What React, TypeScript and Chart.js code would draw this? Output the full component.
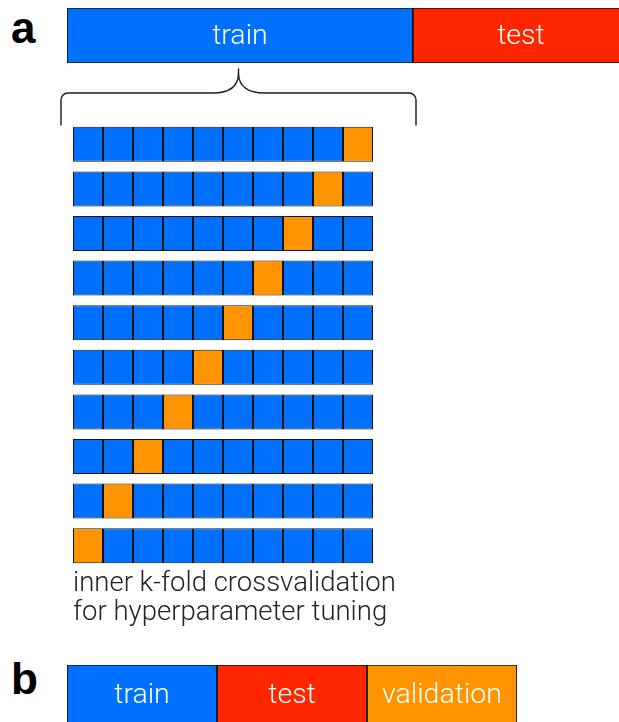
import React, { useEffect, useRef } from "react";
import { Chart, registerables } from "chart.js";

Chart.register(...registerables);

// ---- data ----
const panelLabels = ["a", "b"];
const topCategories = ["train", "test"];
const topShares = [8, 5];
const foldRows = ["fold 1", "fold 2", "fold 3", "fold 4", "fold 5", "fold 6", "fold 7", "fold 8", "fold 9", "fold 10"];
const foldColumns = ["1", "2", "3", "4", "5", "6", "7", "8", "9", "10"];
const validationFold = [9, 8, 7, 6, 5, 4, 3, 2, 1, 0];
const bottomCategories = ["train", "test", "validation"];
const bottomShares = [1, 1, 1];
const captionLines = ["inner k-fold crossvalidation", "for hyperparameter tuning"];

// ---- styles ----
const BLUE = "#0070ff";
const RED = "#ff2600";
const ORANGE = "#ff9300";
const BORDER = "#121212";
const LIGHT_FONT = "Roboto, 'Open Sans', 'Liberation Sans', sans-serif";
const categoryColor: Record<string, string> = { train: BLUE, test: RED, validation: ORANGE };

const segmentLabels = {
  id: "segmentLabels",
  afterDatasetsDraw(chart: any, _args: any, opts: any) {
    if (!opts || !opts.show) return;
    const ctx = chart.ctx;
    ctx.save();
    ctx.fillStyle = "#ffffff";
    ctx.font = opts.font;
    ctx.textAlign = "center";
    ctx.textBaseline = "middle";
    chart.data.datasets.forEach((ds: any, i: number) => {
      const meta = chart.getDatasetMeta(i);
      meta.data.forEach((el: any) => {
        const p = el.getProps(["x", "y", "base"], true);
        ctx.fillText(ds.label, (p.x + p.base) / 2, p.y + (opts.dy || 0));
      });
    });
    ctx.restore();
  },
};

const bracePlugin = {
  id: "brace",
  afterDraw(chart: any, _args: any, o: any) {
    if (!o || !o.show) return;
    const ctx = chart.ctx;
    const { left, right, tipX, yEnd, yMid, yTip, r, w } = o;
    ctx.save();
    ctx.strokeStyle = "#1a1a1a";
    ctx.lineWidth = 1.4;
    ctx.lineCap = "round";
    ctx.beginPath();
    ctx.moveTo(left, yEnd);
    ctx.arcTo(left, yMid, left + r, yMid, r);
    ctx.lineTo(tipX - w, yMid);
    ctx.bezierCurveTo(tipX - w * 0.45, yMid, tipX, yMid - 5, tipX, yTip + 4);
    ctx.lineTo(tipX, yTip);
    ctx.moveTo(tipX, yTip + 4);
    ctx.bezierCurveTo(tipX, yMid - 5, tipX + w * 0.45, yMid, tipX + w, yMid);
    ctx.lineTo(right - r, yMid);
    ctx.arcTo(right, yMid, right, yEnd, r);
    ctx.lineTo(right, yEnd);
    ctx.stroke();
    ctx.restore();
  },
};

function baseOptions(extra: any) {
  return {
    indexAxis: "y",
    responsive: false,
    maintainAspectRatio: false,
    animation: false,
    layout: { padding: extra.padding || 0 },
    scales: {
      x: { stacked: true, display: false, min: 0, max: extra.max },
      y: { stacked: true, display: false },
    },
    plugins: {
      legend: { display: false },
      tooltip: { enabled: false },
      segmentLabels: extra.labels || { show: false },
      brace: extra.brace || { show: false },
    },
  };
}

function useBarChart(ref: any, build: () => any) {
  useEffect(() => {
    const chart = new Chart(ref.current, build());
    return () => chart.destroy();
  }, []);
}

export default function App() {
  const topRef = useRef<HTMLCanvasElement>(null);
  const gridRef = useRef<HTMLCanvasElement>(null);
  const bottomRef = useRef<HTMLCanvasElement>(null);

  useBarChart(topRef, () => ({
    type: "bar",
    data: {
      labels: ["split"],
      datasets: topCategories.map((c, i) => ({
        label: c,
        data: [topShares[i]],
        backgroundColor: categoryColor[c],
        borderColor: BORDER,
        borderWidth: 1.2,
        borderSkipped: false,
        categoryPercentage: 1,
        barPercentage: 1,
      })),
    },
    options: baseOptions({
      max: topShares.reduce((a, b) => a + b, 0),
      labels: { show: true, font: `300 28.5px ${LIGHT_FONT}`, dy: 1 },
    }),
    plugins: [segmentLabels],
  }));

  useBarChart(gridRef, () => ({
    type: "bar",
    data: {
      labels: foldRows,
      datasets: foldColumns.map((c, j) => ({
        label: c,
        data: foldRows.map(() => 1),
        backgroundColor: foldRows.map((_, r) => (validationFold[r] === j ? ORANGE : BLUE)),
        borderColor: BORDER,
        borderWidth: 1,
        borderSkipped: false,
        categoryPercentage: 1,
        barPercentage: 0.785,
      })),
    },
    options: baseOptions({
      max: foldColumns.length,
      padding: { left: 18, right: 52, top: 62, bottom: 2 },
      brace: { show: true, left: 6, right: 361, tipX: 183.5, yEnd: 65, yMid: 33, yTip: 9, r: 7, w: 26 },
    }),
    plugins: [bracePlugin],
  }));

  useBarChart(bottomRef, () => ({
    type: "bar",
    data: {
      labels: ["split"],
      datasets: bottomCategories.map((c, i) => ({
        label: c,
        data: [bottomShares[i]],
        backgroundColor: categoryColor[c],
        borderColor: BORDER,
        borderWidth: 1.2,
        borderSkipped: false,
        categoryPercentage: 1,
        barPercentage: 1,
      })),
    },
    options: baseOptions({
      max: bottomShares.reduce((a, b) => a + b, 0),
      labels: { show: true, font: `300 28.5px ${LIGHT_FONT}`, dy: 1 },
    }),
    plugins: [segmentLabels],
  }));

  const letterStyle: React.CSSProperties = {
    position: "absolute",
    left: 11,
    font: "bold 44px 'Liberation Sans', Arial, sans-serif",
    lineHeight: "44px",
    color: "#000",
    margin: 0,
  };

  return (
    <div
      style={{
        position: "fixed",
        left: 0,
        top: 0,
        width: 619,
        height: 722,
        overflow: "hidden",
        background: "#fff",
      }}
    >
      <div style={{ ...letterStyle, top: 6 }}>{panelLabels[0]}</div>
      <div style={{ ...letterStyle, top: 657 }}>{panelLabels[1]}</div>
      <canvas ref={topRef} width={562} height={55} style={{ position: "absolute", left: 67, top: 8, display: "block" }} />
      <canvas ref={gridRef} width={370} height={510} style={{ position: "absolute", left: 55, top: 60, display: "block" }} />
      <canvas ref={bottomRef} width={450} height={60} style={{ position: "absolute", left: 67, top: 665, display: "block" }} />
      {captionLines.map((line, i) => (
        <div
          key={i}
          style={{
            position: "absolute",
            left: 73,
            top: 567 + i * 29,
            font: `300 27.5px ${LIGHT_FONT}`,
            lineHeight: "29px",
            color: "#222",
            whiteSpace: "nowrap",
          }}
        >
          {line}
        </div>
      ))}
    </div>
  );
}
